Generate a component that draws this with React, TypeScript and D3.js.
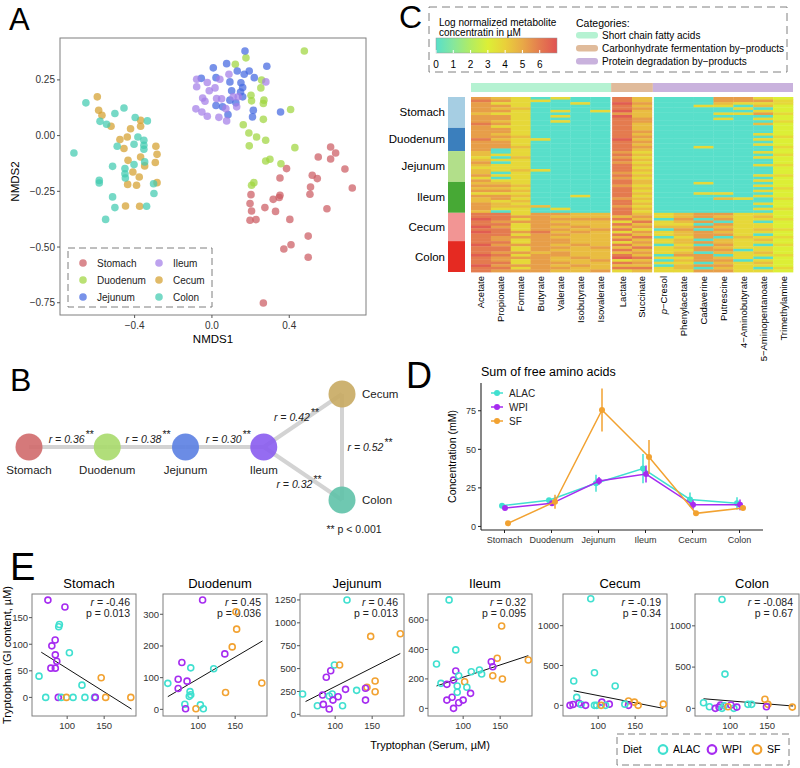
import React, { useEffect, useRef } from 'react';
import * as d3 from 'd3';

const FONT = 'Arial, "Liberation Sans", Helvetica, sans-serif';

// ---------- A: NMDS ordination ----------
const organs = ['Stomach', 'Duodenum', 'Jejunum', 'Ileum', 'Cecum', 'Colon'];
const nmdsColors = ['#cc5c63', '#9fd63f', '#4468e0', '#a47ee8', '#d4a02e', '#41cbb0'];

const nmdsStomach = [[0.614, -0.051], [0.64, -0.078], [0.55, -0.096], [0.614, -0.105], [0.688, -0.15], [0.386, -0.148], [0.519, -0.178], [0.545, -0.193], [0.352, -0.19], [0.51, -0.231], [0.726, -0.235], [0.507, -0.263], [0.202, -0.265], [0.352, -0.268], [0.317, -0.286], [0.348, -0.278], [0.197, -0.305], [0.595, -0.328], [0.205, -0.338], [0.274, -0.323], [0.329, -0.34], [0.197, -0.38], [0.228, -0.377], [0.403, -0.376], [0.498, -0.451], [0.409, -0.49], [0.372, -0.509], [0.498, -0.546], [0.266, -0.751]];
const nmdsDuodenum = [[0.478, 0.38], [0.176, 0.349], [0.121, 0.32], [0.257, 0.249], [0.253, 0.214], [0.202, 0.181], [0.205, 0.156], [0.269, 0.159], [0.266, 0.144], [0.407, 0.117], [0.266, 0.073], [0.162, 0.049], [0.191, 0.012], [0.231, -0.006], [0.278, -0.021], [0.193, -0.046], [0.429, -0.054], [0.3, -0.106], [0.278, -0.114], [0.357, -0.126], [0.205, -0.223], [0.217, -0.211]];
const nmdsJejunum = [[0.171, 0.38], [0.076, 0.323], [0.007, 0.304], [0.284, 0.311], [0.131, 0.29], [0.193, 0.29], [0.167, 0.275], [0.021, 0.26], [-0.055, 0.257], [0.219, 0.26], [0.093, 0.241], [0.15, 0.237], [0.159, 0.216], [0.148, 0.196], [0.102, 0.201], [0.093, 0.159], [0.159, 0.174], [0.124, 0.147], [0.021, 0.135], [0.214, 0.114], [0.355, 0.106], [0.083, 0.094], [0.21, 0.084], [0.055, 0.129]];
const nmdsIleum = [[-0.079, 0.253], [-0.024, 0.238], [0.041, 0.253], [0.088, 0.275], [0.279, 0.241], [0.016, 0.214], [-0.079, 0.219], [-0.014, 0.201], [-0.048, 0.169], [-0.036, 0.154], [0.024, 0.166], [0.05, 0.165], [0.11, 0.174], [0.136, 0.174], [-0.083, 0.12], [-0.052, 0.106], [-0.024, 0.087], [0.036, 0.082], [0.076, 0.066], [0.072, 0.121], [0.128, 0.129]];
const nmdsCecum = [[-0.593, 0.174], [-0.586, 0.114], [-0.569, 0.091], [-0.522, 0.042], [-0.369, 0.069], [-0.421, 0.031], [-0.369, 0.042], [-0.476, -0.018], [-0.438, -0.006], [-0.455, -0.058], [-0.29, -0.048], [-0.284, -0.084], [-0.369, -0.096], [-0.434, -0.111], [-0.293, -0.121], [-0.348, -0.136], [-0.409, -0.163], [-0.376, -0.186], [-0.284, -0.211], [-0.436, -0.219], [-0.39, -0.223], [-0.447, -0.316], [-0.374, -0.317]];
const nmdsColon = [[-0.652, 0.147], [-0.455, 0.124], [-0.502, 0.099], [-0.579, 0.064], [-0.545, 0.051], [-0.397, 0.081], [-0.334, 0.066], [-0.714, -0.078], [-0.383, -0.006], [-0.352, -0.021], [-0.352, -0.043], [-0.352, -0.061], [-0.403, -0.039], [-0.49, -0.048], [-0.348, -0.118], [-0.403, -0.13], [-0.514, -0.138], [-0.45, -0.148], [-0.45, -0.171], [-0.448, -0.19], [-0.583, -0.201], [-0.583, -0.213], [-0.302, -0.216], [-0.3, -0.26], [-0.514, -0.275], [-0.502, -0.323], [-0.338, -0.317], [-0.55, -0.376]];
const nmdsSets = [nmdsStomach, nmdsDuodenum, nmdsJejunum, nmdsIleum, nmdsCecum, nmdsColon];

// ---------- B: correlation network ----------
const netColors = ['#d06a6c', '#a9da6c', '#5b80e2', '#8a5cef', '#c8aa62', '#5fc2a8'];
const netCol = [0, 1, 2, 3, 4, 4];
const netRow = [0, 0, 0, 0, -1, 1];
const netEdges = [[0, 1], [1, 2], [2, 3], [3, 4], [4, 5], [3, 5]];
const netR = ['0.36', '0.38', '0.30', '0.42', '0.52', '0.32'];

// ---------- C: metabolite heatmap ----------
const metabolites = ['Acetate', 'Propionate', 'Formate', 'Butyrate', 'Valerate', 'Isobutyrate', 'Isovalerate', 'Lactate', 'Succinate', 'p−Cresol', 'Phenylacetate', 'Cadaverine', 'Putrescine', '4−Aminobutyrate', '5−Aminopentanoate', 'Trimethylamine'];
const metaboliteGroup = [0, 0, 0, 0, 0, 0, 0, 1, 1, 2, 2, 2, 2, 2, 2, 2];
const categories = ['Short chain fatty acids', 'Carbonhydrate fermentation by−products', 'Protein degradation by−products'];
const categoryColors = ['#b5f2d2', '#e0bb9b', '#c9b2dd'];
const organRowCounts = [12, 9, 12, 12, 11, 12];
const organBlockColors = ['#a6cee3', '#3b7fbd', '#b2df8a', '#47a935', '#f29594', '#e52a22'];
// one digit per sample row (value = digit * 0.75, log µM), organ groups separated by spaces
const heatAcetate = '787777677787 777787777 665676566757 676757667776 88988989888 898889888988';
const heatPropionate = '675767577675 776767770 050505550505 676757756650 88878788877 878878778787';
const heatFormate = '555565555555 555655565 556555565555 565656565655 57575557575 575575755757';
const heatButyrate = '050000000000 000050000 000000050000 000000000600 77777778777 777767777777';
const heatValerate = '500005050500 000000000 000000000000 000000000050 76767676767 767677667676';
const heatIsobutyrate = '005000000000 000000000 000000000000 000005000000 66766767666 676666766766';
const heatIsovalerate = '000005000000 000000000 000000000000 000000000000 66766676666 667666676667';
const heatLactate = '889889798888 888898888 787878887878 878888788788 86858685868 586868958685';
const heatSuccinate = '667676667766 676767676 565656565656 656565656565 67686757686 768676867686';
const heatCresol = '000000000000 000000000 000000000000 000000000000 55055605505 505550505055';
const heatPhenylacetate = '000000000000 000000000 000000000000 000000000000 66765676656 656567565665';
const heatCadaverine = '000500000000 000000050 000000000000 500050000000 77070707770 707707770707';
const heatPutrescine = '776500505000 000000000 000000000000 000050600000 76707676706 676760676767';
const heatAminobutyrate = '775050500000 000000000 000000000000 000000500000 55555555565 555055505555';
const heatAminopentanoate = '575605705060 005050500 505005000505 050505005050 56505565056 505565056505';
const heatTrimethylamine = '455444544544 444544454 454445444544 445444544454 44544454454 454445444454';
const heatColumns = [heatAcetate, heatPropionate, heatFormate, heatButyrate, heatValerate, heatIsobutyrate, heatIsovalerate, heatLactate, heatSuccinate, heatCresol, heatPhenylacetate, heatCadaverine, heatPutrescine, heatAminobutyrate, heatAminopentanoate, heatTrimethylamine];
const heatStops = [0, 1, 2, 3, 4, 5, 6, 7];
const heatColors = ['#58dfca', '#86e79c', '#b2ec62', '#dcef36', '#e9d03a', '#e8a947', '#e47b4f', '#e05353'];
const heatTicks = [0, 1, 2, 3, 4, 5, 6];

// ---------- D: sum of free amino acids ----------
const diets = ['ALAC', 'WPI', 'SF'];
const dietColors = ['#40e0d0', '#a62cf0', '#f2a231'];
const aaAlac = [13.5, 17, 28, 37.5, 17.5, 15];
const aaAlacErr = [1.2, 1.5, 5.5, 9.5, 4.5, 4];
const aaWpi = [12, 15, 29.5, 34, 14, 14];
const aaWpiErr = [0.8, 1.5, 2.5, 5.5, 3, 3.5];
const aaSf = [2, 16, 75.5, 45, 8.5, 12];
const aaSfErr = [0.5, 4.5, 14, 11, 1, 1.5];
const aaTicks = [0, 25, 50, 75];

// ---------- E: tryptophan GI vs serum ----------
const trpStomach = [['WPI', 74, 183], ['WPI', 97, 170], ['ALAC', 88.6, 133], ['ALAC', 89.5, 137], ['WPI', 83.8, 108], ['WPI', 79.3, 97], ['ALAC', 103, 84], ['WPI', 84, 80], ['WPI', 86, 68], ['WPI', 78, 55], ['WPI', 84, 55], ['ALAC', 62, 40], ['ALAC', 71, 0], ['WPI', 88, 0], ['ALAC', 92, 0], ['SF', 99, 0], ['ALAC', 108, 0], ['ALAC', 120, 23], ['ALAC', 124, 0], ['ALAC', 137, 0], ['WPI', 138, 0], ['SF', 146, 37], ['SF', 152, 0], ['SF', 186, 0]];
const trpDuodenum = [['WPI', 106, 345], ['SF', 151, 308], ['SF', 152, 253], ['SF', 146, 197], ['WPI', 136, 175], ['WPI', 78, 148], ['ALAC', 90, 131], ['ALAC', 121, 128], ['WPI', 73, 95], ['WPI', 85, 89], ['WPI', 73, 66], ['ALAC', 59, 82], ['ALAC', 89, 56], ['ALAC', 90, 46], ['ALAC', 88, 41], ['ALAC', 82, 16], ['ALAC', 103, 14], ['WPI', 83, 2], ['SF', 97, 2], ['ALAC', 107, 2], ['SF', 137, 53], ['SF', 186, 83]];
const trpJejunum = [['ALAC', 116, 1250], ['SF', 148, 852], ['SF', 188, 880], ['ALAC', 56, 222], ['ALAC', 76, 94], ['WPI', 83, 211], ['WPI', 84, 109], ['WPI', 92, 58], ['WPI', 88, 405], ['WPI', 94, 477], ['ALAC', 99, 539], ['SF', 106, 539], ['ALAC', 96, 222], ['ALAC', 92, 200], ['WPI', 97, 156], ['WPI', 104, 193], ['ALAC', 110, 94], ['WPI', 114, 273], ['ALAC', 129, 262], ['SF', 143, 295], ['SF', 154, 364], ['SF', 154, 247], ['WPI', 141, 285], ['WPI', 141, 156]];
const trpIleum = [['ALAC', 81, 737], ['ALAC', 90, 397], ['SF', 152, 560], ['SF', 146, 340], ['ALAC', 64, 301], ['ALAC', 70, 170], ['WPI', 78, 163], ['WPI', 87, 192], ['WPI', 90, 254], ['WPI', 78, 56], ['WPI', 85, 75], ['WPI', 87, 0], ['ALAC', 92, 152], ['ALAC', 92, 109], ['WPI', 94, 38], ['WPI', 100, 56], ['SF', 102, 181], ['ALAC', 94, 222], ['ALAC', 105, 143], ['WPI', 110, 102], ['ALAC', 111, 249], ['ALAC', 122, 261], ['ALAC', 125, 233], ['WPI', 138, 317], ['WPI', 140, 283], ['SF', 140, 222], ['SF', 153, 199], ['SF', 188, 329]];
const trpCecum = [['ALAC', 90, 1339], ['ALAC', 67, 305], ['ALAC', 95, 410], ['ALAC', 123, 242], ['ALAC', 71, 100], ['WPI', 62, 0], ['WPI', 66, 10], ['WPI', 74, 25], ['ALAC', 77, 10], ['WPI', 83, 0], ['ALAC', 95, 0], ['ALAC', 98, 0], ['WPI', 105, 40], ['WPI', 115, 15], ['ALAC', 110, 0], ['SF', 104, 0], ['SF', 141, 55], ['SF', 149, 40], ['SF', 154, 0], ['WPI', 141, 0], ['ALAC', 136, 15], ['SF', 188, 15]];
const trpColon = [['ALAC', 89, 1319], ['ALAC', 93, 415], ['ALAC', 64, 68], ['ALAC', 72, 20], ['WPI', 80, 0], ['WPI', 85, 15], ['WPI', 87, 40], ['ALAC', 89, 0], ['ALAC', 92, 30], ['WPI', 101, 40], ['ALAC', 105, 0], ['WPI', 109, 15], ['SF', 97, 20], ['ALAC', 124, 48], ['ALAC', 129, 48], ['SF', 147, 110], ['SF', 151, 48], ['WPI', 149, 20], ['SF', 184, 15]];
const trpSets = [trpStomach, trpDuodenum, trpJejunum, trpIleum, trpCecum, trpColon];
const trpFits = [[65, 85, 187, -22], [59, 40, 187, 216], [60, 140, 188, 665], [64, 152, 188, 358], [67, 183, 188, -38], [64, 116, 185, 28]];
const trpR = ['-0.46', '0.45', '0.46', '0.32', '-0.19', '-0.084'];
const trpP = ['0.013', '0.036', '0.013', '0.095', '0.34', '0.67'];
const trpYLim = [[-35, 194.5], [-21, 364], [-18, 1315], [-52, 777], [-134, 1398], [-93, 1386]];
const trpYTicks = [[0, 50, 100, 150], [0, 100, 200, 300], [0, 250, 500, 750, 1000, 1250], [0, 200, 400, 600], [0, 500, 1000], [0, 500, 1000]];
const trpXLim = [52.5, 193];
const trpXTicks = [100, 150];

type Sel = d3.Selection<any, any, any, any>;

function label(g: Sel, txt: string, x: number, y: number, size: number) {
  g.append('text').attr('x', x).attr('y', y).attr('font-size', size).attr('fill', '#000').text(txt);
}

function drawA(svg: Sel) {
  const g = svg.append('g');
  const L = 60, R = 366, T = 38, B = 315;
  const x = d3.scaleLinear().domain([-0.786, 0.797]).range([L, R]);
  const y = d3.scaleLinear().domain([-0.805, 0.438]).range([B, T]);
  label(g, 'A', 9, 30, 31);

  nmdsSets.forEach((pts, i) => {
    g.append('g').selectAll('circle').data(pts).join('circle')
      .attr('cx', d => x(d[0])).attr('cy', d => y(d[1])).attr('r', 3.8)
      .attr('fill', nmdsColors[i]).attr('fill-opacity', 0.72);
  });
  g.append('rect').attr('x', L).attr('y', T).attr('width', R - L).attr('height', B - T)
    .attr('fill', 'none').attr('stroke', '#7f7f7f').attr('stroke-width', 1);

  const fx = d3.format('.1f');
  const fy = d3.format('.2f');
  [-0.4, 0, 0.4].forEach(v => {
    g.append('line').attr('x1', x(v)).attr('x2', x(v)).attr('y1', B).attr('y2', B + 3).attr('stroke', '#555');
    g.append('text').attr('x', x(v)).attr('y', B + 14).attr('text-anchor', 'middle').attr('font-size', 10).attr('fill', '#333').text(fx(v));
  });
  [0.25, 0, -0.25, -0.5, -0.75].forEach(v => {
    g.append('line').attr('x1', L - 3).attr('x2', L).attr('y1', y(v)).attr('y2', y(v)).attr('stroke', '#555');
    g.append('text').attr('x', L - 5).attr('y', y(v) + 3.5).attr('text-anchor', 'end').attr('font-size', 10).attr('fill', '#333').text(fy(v));
  });
  g.append('text').attr('x', (L + R) / 2).attr('y', B + 28).attr('text-anchor', 'middle').attr('font-size', 11.5).text('NMDS1');
  g.append('text').attr('transform', `translate(19,${(T + B) / 2 + 5}) rotate(-90)`).attr('text-anchor', 'middle').attr('font-size', 11.5).text('NMDS2');

  // legend
  g.append('rect').attr('x', 68).attr('y', 248).attr('width', 144).attr('height', 59)
    .attr('fill', '#fff').attr('stroke', '#7f7f7f').attr('stroke-dasharray', '7,4');
  organs.forEach((o, i) => {
    const cx = i < 3 ? 83 : 159;
    const cy = 263 + (i % 3) * 17;
    g.append('circle').attr('cx', cx).attr('cy', cy).attr('r', 3.8).attr('fill', nmdsColors[i]).attr('fill-opacity', 0.72);
    g.append('text').attr('x', cx + 14).attr('y', cy + 3.5).attr('font-size', 10).attr('fill', '#222').text(o);
  });
}

function drawB(svg: Sel) {
  const g = svg.append('g');
  label(g, 'B', 10, 391, 32);
  const x = d3.scaleLinear().domain([0, 4]).range([29, 342]);
  const y = d3.scaleLinear().domain([-1, 1]).range([394, 500]);
  const labelOffsets = [[-1.5, -4.5], [-3, -4.5], [-1, -4.5], [-11, 0], [23.5, 4], [-8.5, 14]];
  netEdges.forEach(([a, b]) => {
    g.append('line').attr('x1', x(netCol[a])).attr('y1', y(netRow[a])).attr('x2', x(netCol[b])).attr('y2', y(netRow[b]))
      .attr('stroke', '#d3d3d3').attr('stroke-width', 4);
  });
  organs.forEach((o, i) => {
    g.append('circle').attr('cx', x(netCol[i])).attr('cy', y(netRow[i])).attr('r', 13.5)
      .attr('fill', netColors[i]).attr('fill-opacity', 0.9);
    const side = i >= 4;
    g.append('text')
      .attr('x', side ? x(netCol[i]) + 20 : x(netCol[i]))
      .attr('y', side ? y(netRow[i]) + 4 : y(netRow[i]) + 27)
      .attr('text-anchor', side ? 'start' : 'middle').attr('font-size', 11.5).attr('fill', '#222').text(o);
  });
  netEdges.forEach(([a, b], i) => {
    const mx = (x(netCol[a]) + x(netCol[b])) / 2 + labelOffsets[i][0];
    const my = (y(netRow[a]) + y(netRow[b])) / 2 + labelOffsets[i][1];
    const t = g.append('text').attr('x', mx).attr('y', my).attr('text-anchor', 'middle').attr('font-size', 10.5).attr('fill', '#222');
    t.append('tspan').attr('font-style', 'italic').text(`r = ${netR[i]}`);
    const w = 36;
    g.append('text').attr('x', mx + w / 2 + 1).attr('y', my - 5).attr('font-size', 10.5).attr('fill', '#222').text('**');
  });
  g.append('text').attr('x', 354).attr('y', 533).attr('text-anchor', 'middle').attr('font-size', 10.5).attr('fill', '#222').text('** p < 0.001');
}

function drawC(svg: Sel) {
  const g = svg.append('g');
  label(g, 'C', 399, 28, 32);
  const heat = d3.scaleLinear<string>().domain(heatStops).range(heatColors).clamp(true);

  // legend box
  g.append('rect').attr('x', 429).attr('y', 7).attr('width', 358).attr('height', 65)
    .attr('fill', 'none').attr('stroke', '#808080').attr('stroke-dasharray', '8,5');
  g.append('text').attr('x', 439).attr('y', 26).attr('font-size', 10).text('Log normalized metabolite');
  g.append('text').attr('x', 439).attr('y', 36).attr('font-size', 10).text('concentratin in µM');
  const cb = d3.scaleLinear().domain([0, 7]).range([436, 557]);
  const grad = svg.append('defs').append('linearGradient').attr('id', 'heatGrad');
  heatStops.forEach(s => grad.append('stop').attr('offset', `${(s / 7) * 100}%`).attr('stop-color', heat(s)));
  g.append('rect').attr('x', cb(0)).attr('y', 38).attr('width', cb(7) - cb(0)).attr('height', 15).attr('fill', 'url(#heatGrad)').attr('stroke', '#999').attr('stroke-width', 0.5);
  heatTicks.forEach(v => {
    g.append('line').attr('x1', cb(v)).attr('x2', cb(v)).attr('y1', 50).attr('y2', 53).attr('stroke', '#fff');
    g.append('text').attr('x', cb(v)).attr('y', 68).attr('text-anchor', 'middle').attr('font-size', 10).text(v);
  });
  g.append('text').attr('x', 576).attr('y', 27).attr('font-size', 10.5).text('Categories:');
  categories.forEach((c, i) => {
    g.append('rect').attr('x', 576).attr('y', 32 + i * 13).attr('width', 22).attr('height', 6.5).attr('rx', 3).attr('fill', categoryColors[i]);
    g.append('text').attr('x', 602).attr('y', 39 + i * 13).attr('font-size', 10).text(c);
  });

  // heatmap body
  const nRows = d3.sum(organRowCounts);
  const y = d3.scaleBand<number>().domain(d3.range(nRows)).range([97, 272]);
  const xb = d3.scaleBand<string>().domain(metabolites).range([471, 789]);
  const colX = (i: number) => (xb(metabolites[i]) as number) + metaboliteGroup[i] * 2;
  const bw = xb.bandwidth();

  heatColumns.forEach((col, ci) => {
    const digits = col.replace(/\s/g, '').split('').map(Number);
    g.append('g').selectAll('rect').data(digits).join('rect')
      .attr('x', colX(ci)).attr('width', bw + 0.3)
      .attr('y', (_, ri) => y(ri) as number).attr('height', y.bandwidth() + 0.4)
      .attr('fill', d => heat(d * 0.75));
  });

  // category strip
  [0, 1, 2].forEach(k => {
    const idx = metaboliteGroup.map((m, i) => (m === k ? i : -1)).filter(i => i >= 0);
    const x0 = colX(idx[0]) - (k > 0 ? 1 : 0);
    const x1 = colX(idx[idx.length - 1]) + bw + (k < 2 ? 1 : 0);
    g.append('rect').attr('x', x0).attr('y', 83).attr('width', x1 - x0).attr('height', 9).attr('fill', categoryColors[k]);
  });

  // organ annotation
  let start = 0;
  organs.forEach((o, i) => {
    const y0 = y(start) as number;
    const y1 = (y(start + organRowCounts[i] - 1) as number) + y.bandwidth();
    g.append('rect').attr('x', 448).attr('y', y0).attr('width', 17).attr('height', y1 - y0).attr('fill', organBlockColors[i]);
    g.append('text').attr('x', 445).attr('y', (y0 + y1) / 2 + 4).attr('text-anchor', 'end').attr('font-size', 11.5).text(o);
    start += organRowCounts[i];
  });

  // column labels
  metabolites.forEach((m, i) => {
    const cx = colX(i) + bw / 2 + 3.5;
    const t = g.append('text').attr('transform', `translate(${cx},276) rotate(-90)`).attr('text-anchor', 'end').attr('font-size', 9.5);
    if (m.startsWith('p−')) {
      t.append('tspan').attr('font-style', 'italic').text('p');
      t.append('tspan').text(m.slice(1));
    } else t.text(m);
  });
}

function drawD(svg: Sel) {
  const g = svg.append('g');
  label(g, 'D', 406, 388, 36);
  const L = 481, R = 763, T = 383, B = 530;
  const x = d3.scalePoint<string>().domain(organs).range([L, R]).padding(0.5);
  const y = d3.scaleLinear().domain([-2.3, 93]).range([B, T]);
  g.append('text').attr('x', L).attr('y', 376).attr('font-size', 12.5).text('Sum of free amino acids');

  g.append('line').attr('x1', L).attr('x2', L).attr('y1', T).attr('y2', B).attr('stroke', '#222').attr('stroke-width', 1.1);
  g.append('line').attr('x1', L).attr('x2', R).attr('y1', B).attr('y2', B).attr('stroke', '#222').attr('stroke-width', 1.1);
  aaTicks.forEach(v => {
    g.append('line').attr('x1', L - 3).attr('x2', L).attr('y1', y(v)).attr('y2', y(v)).attr('stroke', '#222');
    g.append('text').attr('x', L - 5).attr('y', y(v) + 3.3).attr('text-anchor', 'end').attr('font-size', 9).attr('fill', '#333').text(v);
  });
  organs.forEach(o => {
    g.append('line').attr('x1', x(o)!).attr('x2', x(o)!).attr('y1', B).attr('y2', B + 3).attr('stroke', '#222');
    g.append('text').attr('x', x(o)!).attr('y', B + 12.5).attr('text-anchor', 'middle').attr('font-size', 9).attr('fill', '#333').text(o);
  });
  g.append('text').attr('transform', `translate(456,${(T + B) / 2}) rotate(-90)`).attr('text-anchor', 'middle').attr('font-size', 10.5).text('Concentration (mM)');

  const series = [[aaAlac, aaAlacErr], [aaWpi, aaWpiErr], [aaSf, aaSfErr]];
  const dodge = [-2.5, 0.5, 3.5];
  series.forEach(([m, e], k) => {
    const pts = organs.map((o, i) => ({ x: x(o)! + dodge[k], v: m[i], e: e[i] }));
    g.append('path').datum(pts).attr('fill', 'none').attr('stroke', dietColors[k]).attr('stroke-width', 1.5)
      .attr('d', d3.line<any>().x(d => d.x).y(d => y(d.v)));
    g.append('g').selectAll('line').data(pts).join('line')
      .attr('x1', d => d.x).attr('x2', d => d.x).attr('y1', d => y(d.v - d.e)).attr('y2', d => y(d.v + d.e))
      .attr('stroke', dietColors[k]).attr('stroke-width', 1.5);
    g.append('g').selectAll('circle').data(pts).join('circle')
      .attr('cx', d => d.x).attr('cy', d => y(d.v)).attr('r', 3).attr('fill', dietColors[k]);
  });
  diets.forEach((d, k) => {
    const cy = 393 + k * 14;
    g.append('line').attr('x1', 491).attr('x2', 503).attr('y1', cy).attr('y2', cy).attr('stroke', dietColors[k]).attr('stroke-width', 1.5);
    g.append('circle').attr('cx', 497).attr('cy', cy).attr('r', 3).attr('fill', dietColors[k]);
    g.append('text').attr('x', 509).attr('y', cy + 3.5).attr('font-size', 10).attr('fill', '#222').text(d);
  });
}

function drawE(svg: Sel) {
  const g = svg.append('g');
  label(g, 'E', 10, 580, 38);
  const lefts = [32, 163, 300, 428, 563, 695];
  const W = 104, T = 594, B = 716;
  const dietIdx = (d: string) => diets.indexOf(d);

  organs.forEach((o, i) => {
    const L = lefts[i];
    const x = d3.scaleLinear().domain(trpXLim).range([L, L + W]);
    const y = d3.scaleLinear().domain(trpYLim[i]).range([B, T]);
    const p = g.append('g');
    p.append('text').attr('x', L + W / 2 + 5).attr('y', 588).attr('text-anchor', 'middle').attr('font-size', 13).text(o);
    p.append('rect').attr('x', L).attr('y', T).attr('width', W).attr('height', B - T).attr('fill', '#fff').attr('stroke', '#7f7f7f');
    trpXTicks.forEach(v => {
      p.append('line').attr('x1', x(v)).attr('x2', x(v)).attr('y1', B).attr('y2', B + 3).attr('stroke', '#555');
      p.append('text').attr('x', x(v)).attr('y', B + 13).attr('text-anchor', 'middle').attr('font-size', 9.5).attr('fill', '#333').text(v);
    });
    trpYTicks[i].forEach(v => {
      p.append('line').attr('x1', L - 3).attr('x2', L).attr('y1', y(v)).attr('y2', y(v)).attr('stroke', '#555');
      p.append('text').attr('x', L - 4).attr('y', y(v) + 3.3).attr('text-anchor', 'end').attr('font-size', 9.5).attr('fill', '#333').text(v);
    });
    const rt = p.append('text').attr('x', L + W - 6).attr('y', T + 12).attr('text-anchor', 'end').attr('font-size', 10.5).attr('fill', '#222');
    rt.append('tspan').attr('font-style', 'italic').text('r');
    rt.append('tspan').text(` = ${trpR[i]}`);
    p.append('text').attr('x', L + W - 6).attr('y', T + 23).attr('text-anchor', 'end').attr('font-size', 10.5).attr('fill', '#222').text(`p = ${trpP[i]}`);
    const f = trpFits[i];
    p.append('line').attr('x1', x(f[0])).attr('y1', y(f[1])).attr('x2', x(f[2])).attr('y2', y(f[3])).attr('stroke', '#111').attr('stroke-width', 1);
    p.append('g').selectAll('circle').data(trpSets[i]).join('circle')
      .attr('cx', (d: any) => x(d[1])).attr('cy', (d: any) => y(d[2])).attr('r', 3)
      .attr('fill', 'none').attr('stroke', (d: any) => dietColors[dietIdx(d[0])]).attr('stroke-width', 1.6);
  });
  g.append('text').attr('transform', `translate(11,${(T + B) / 2}) rotate(-90)`).attr('text-anchor', 'middle').attr('font-size', 11).text('Tryptophan (GI content, µM)');
  g.append('text').attr('x', 430).attr('y', 749).attr('text-anchor', 'middle').attr('font-size', 11).text('Tryptophan (Serum, µM)');

  g.append('rect').attr('x', 617).attr('y', 734).attr('width', 172).attr('height', 31)
    .attr('fill', 'none').attr('stroke', '#808080').attr('stroke-dasharray', '7,4');
  g.append('text').attr('x', 623).attr('y', 753).attr('font-size', 10.5).text('Diet');
  const lx = [663, 712, 757];
  diets.forEach((d, k) => {
    g.append('circle').attr('cx', lx[k]).attr('cy', 749.5).attr('r', 4.3).attr('fill', 'none').attr('stroke', dietColors[k]).attr('stroke-width', 2.2);
    g.append('text').attr('x', lx[k] + 10).attr('y', 753).attr('font-size', 10.5).text(d);
  });
}

export default function App() {
  const ref = useRef<SVGSVGElement>(null);
  useEffect(() => {
    const svg = d3.select(ref.current);
    svg.selectAll('*').remove();
    drawA(svg);
    drawB(svg);
    drawC(svg);
    drawD(svg);
    drawE(svg);
  }, []);
  return (
    <svg ref={ref} width={800} height={768}
      style={{ position: 'absolute', left: 0, top: 0, background: '#fff', fontFamily: FONT }} />
  );
}
